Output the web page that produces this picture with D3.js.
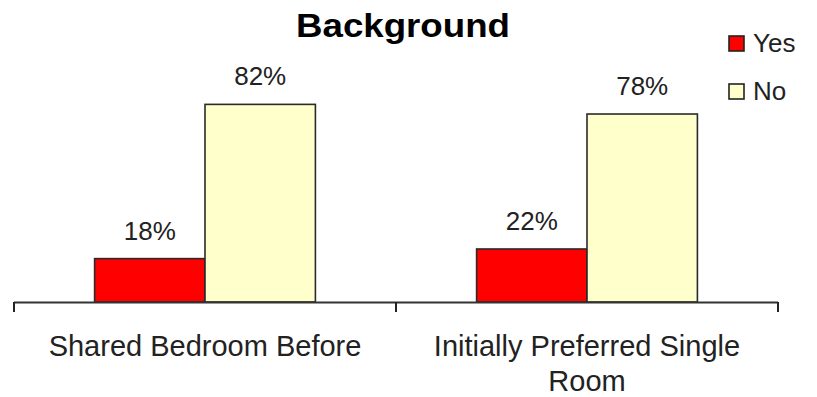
<!DOCTYPE html>
<html>
<head>
<meta charset="utf-8">
<script src="https://cdn.jsdelivr.net/npm/d3@7"></script>
<style>
  html, body { margin: 0; padding: 0; background: #fff; }
  svg text { font-family: "Liberation Sans", Arial, sans-serif; fill: #222; }
</style>
</head>
<body>
<script>
const categories = ["Shared Bedroom Before", "Initially Preferred Single Room"];
const categoryLines = [["Shared Bedroom Before"], ["Initially Preferred Single", "Room"]];
const seriesNames = ["Yes", "No"];
const yesValues = [18, 22];
const noValues = [82, 78];
const seriesColors = ["#ff0000", "#ffffcc"];
const title = "Background";

const W = 817, H = 397;
const svg = d3.select("body").append("svg").attr("width", W).attr("height", H);

const baseY = 302;
const x0 = d3.scaleBand().domain(categories).range([14, 778]).paddingInner(0).paddingOuter(0);
const x1 = d3.scaleBand().domain(seriesNames).range([0, x0.bandwidth()]).paddingInner(0).paddingOuter(0.73);
const y = d3.scaleLinear().domain([0, 100]).range([baseY, 61]);
const color = d3.scaleOrdinal().domain(seriesNames).range(seriesColors);

const data = categories.map((c, i) => ({cat: c, values: [
  {s: "Yes", v: yesValues[i]}, {s: "No", v: noValues[i]}
]}));

// Title
svg.append("text").attr("x", 403).attr("y", 37).attr("text-anchor", "middle")
  .style("font-size", "33px").style("font-weight", "bold").style("fill", "#000")
  .attr("textLength", 214).attr("lengthAdjust", "spacingAndGlyphs")
  .text(title);

// Bars
const g = svg.selectAll("g.grp").data(data).enter().append("g")
  .attr("transform", d => `translate(${x0(d.cat)},0)`);
g.selectAll("rect").data(d => d.values).enter().append("rect")
  .attr("x", d => x1(d.s)).attr("width", x1.bandwidth())
  .attr("y", d => y(d.v)).attr("height", d => baseY - y(d.v))
  .attr("fill", d => color(d.s)).attr("stroke", "#2a2a2a").attr("stroke-width", 1.6);
g.selectAll("text.val").data(d => d.values).enter().append("text")
  .attr("class", "val")
  .attr("x", d => x1(d.s) + x1.bandwidth() / 2).attr("y", d => y(d.v) - 19)
  .attr("text-anchor", "middle").style("font-size", "26px")
  .text(d => d.v + "%");

// Axis
const axisTicks = categories.map(c => x0(c)).concat([x0.range()[1]]);
svg.append("line").attr("x1", x0.range()[0]).attr("x2", x0.range()[1])
  .attr("y1", baseY + 0.5).attr("y2", baseY + 0.5)
  .attr("stroke", "#333").attr("stroke-width", 2);
svg.selectAll("line.tick").data(axisTicks).enter().append("line")
  .attr("x1", d => d).attr("x2", d => d)
  .attr("y1", baseY).attr("y2", baseY + 10)
  .attr("stroke", "#222").attr("stroke-width", 2);

// Category labels
const lbl = svg.selectAll("text.cat").data(categories).enter().append("text")
  .attr("class", "cat").attr("text-anchor", "middle").style("font-size", "29px")
  .attr("x", d => x0(d) + x0.bandwidth() / 2).attr("y", 356);
lbl.each(function(d, i) {
  const t = d3.select(this);
  categoryLines[i].forEach((line, j) => {
    t.append("tspan").attr("x", x0(d) + x0.bandwidth() / 2).attr("dy", j === 0 ? 0 : 35).text(line);
  });
});

// Legend
const leg = svg.selectAll("g.leg").data(seriesNames).enter().append("g")
  .attr("transform", (d, i) => `translate(729, ${36 + i * 48})`);
leg.append("rect").attr("width", 15).attr("height", 15)
  .attr("fill", d => color(d)).attr("stroke", "#222").attr("stroke-width", 1.6);
leg.append("text").attr("x", 24).attr("y", 16).style("font-size", "26px").text(d => d);
</script>
</body>
</html>
